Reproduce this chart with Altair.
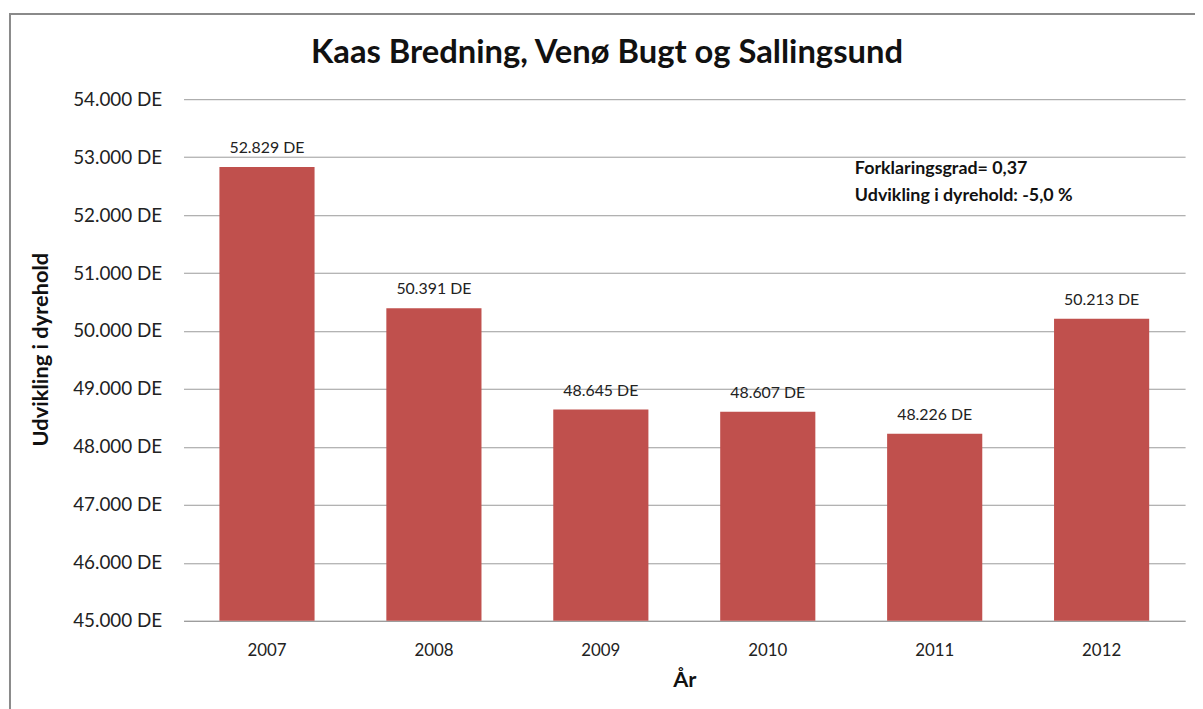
import altair as alt
import pandas as pd

years = ["2007", "2008", "2009", "2010", "2011", "2012"]
values = [52829, 50391, 48645, 48607, 48226, 50213]
title_text = "Kaas Bredning, Venø Bugt og Sallingsund"
note_lines = ["Forklaringsgrad= 0,37", "Udvikling i dyrehold: -5,0 %"]

df = pd.DataFrame({"year": years, "value": values})
df["label"] = [f"{v:,}".replace(",", ".") + " DE" for v in values]
df["base"] = 45000

FONT = "Lato"
W, H = 1010, 526

yscale = alt.Scale(domain=[45000, 54000], zero=False, nice=False)
xenc = alt.X("year:N", title="År", sort=years,
             scale=alt.Scale(paddingInner=0.43, paddingOuter=0.215),
             axis=alt.Axis(labelAngle=0, labelFontSize=17, labelColor="#222",
                           labelPadding=22, ticks=False, domainColor="#999",
                           titleFontSize=22, titleFontWeight="bold", titlePadding=11,
                           titleColor="#111"))

bars = alt.Chart(df).mark_bar(color="#C0504D").encode(
    x=xenc,
    y=alt.Y("value:Q", scale=yscale, title="Udvikling i dyrehold",
            axis=alt.Axis(values=list(range(45000, 54001, 1000)),
                          labelExpr="replace(format(datum.value, ',.0f'), ',', '.') + ' DE'",
                          labelFontSize=19, labelColor="#222", labelPadding=22,
                          ticks=False, domain=False, gridColor="#9a9a9a",
                          titleFontSize=22, titleFontWeight="bold", titleColor="#111",
                          titleX=-132, titleY=252)),
    y2="base:Q",
)

labels = alt.Chart(df).mark_text(fontSize=16, color="#222", dy=-19, font=FONT).encode(
    x=alt.X("year:N", sort=years),
    y=alt.Y("value:Q", scale=yscale),
    text="label:N",
)

notes = alt.Chart(pd.DataFrame({"t": note_lines, "yy": [70, 98]})).mark_text(
    fontSize=18, fontWeight="bold", align="left", baseline="middle", color="#111", font=FONT
).encode(x=alt.value(677), y=alt.Y("yy:Q", scale=None), text="t:N")

title = alt.Chart(pd.DataFrame({"t": [title_text]})).mark_text(
    fontSize=33, fontWeight="bold", align="center", baseline="middle", color="#111", font=FONT
).encode(x=alt.value(427), y=alt.value(-47), text="t:N")

border = alt.Chart(pd.DataFrame({"a": [0]})).mark_rect(
    fill=None, stroke="#8a8a8a", strokeWidth=2
).encode(x=alt.value(-175), x2=alt.value(1040), y=alt.value(-86), y2=alt.value(700))

chart = alt.layer(border, bars, labels, notes, title).properties(
    width=W, height=H,
    autosize=alt.AutoSizeParams(type="none"),
    padding={"left": 177, "top": 89, "right": 10, "bottom": 90},
).configure(font=FONT).configure_view(stroke=None)

chart.save("out.html", embed_options={"renderer": "svg", "actions": False})
